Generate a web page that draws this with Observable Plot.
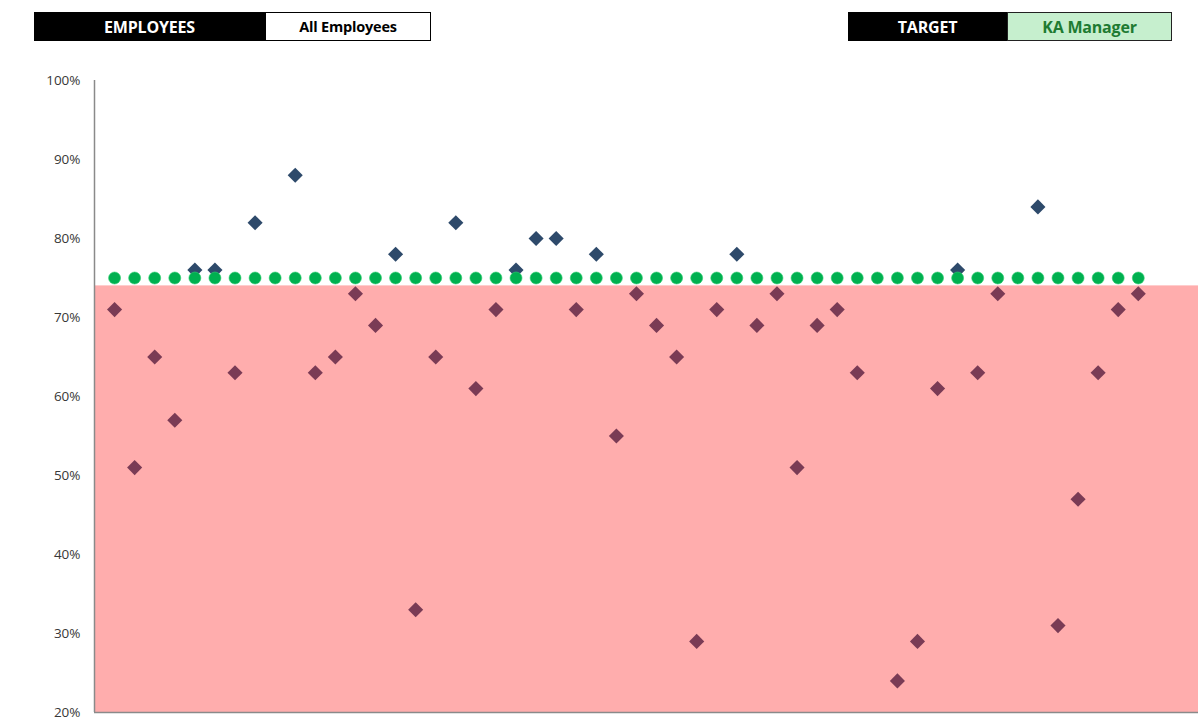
<!DOCTYPE html>
<html>
<head>
<meta charset="utf-8">
<script src="https://cdn.jsdelivr.net/npm/d3@7"></script>
<script src="https://cdn.jsdelivr.net/npm/@observablehq/plot@0.6"></script>
<style>
  body { margin: 0; background: #fff; font-family: "Open Sans", sans-serif; }
  #wrap { position: relative; width: 1198px; }
  #header { position: relative; height: 60px; }
  .box { position: absolute; top: 12px; height: 29px; box-sizing: border-box;
         display: flex; align-items: center; justify-content: center; font-weight: 700; letter-spacing: -0.2px; }
</style>
</head>
<body>
<div id="wrap">
  <div id="header">
    <div class="box" style="left:34px;width:231px;background:#000;color:#fff;font-size:16px;">EMPLOYEES</div>
    <div class="box" style="left:265px;width:166px;background:#fff;color:#000;border:1.5px solid #000;font-size:14.5px;">All Employees</div>
    <div class="box" style="left:848px;width:159px;background:#000;color:#fff;font-size:16px;">TARGET</div>
    <div class="box" style="left:1007px;width:165px;background:#c6efce;color:#1e7b32;border:1.5px solid #222;font-size:16px;">KA Manager</div>
  </div>
  <div id="chart"></div>
</div>
<script>
// Scores per employee (percent); null = no score shown
const scores = [71, 51, 65, 57, 76, 76, 63, 82, null, 88,
                63, 65, 73, 69, 78, 33, 65, 82, 61, 71,
                76, 80, 80, 71, 78, 55, 73, 69, 65, 29,
                71, 78, 69, 73, 51, 69, 71, 63, null, 24,
                29, 61, 76, 63, 73, null, 84, 31, 47, 63,
                71, 73];
const targetValue = 75;      // green dotted target line
const bandTop = 74;          // red "below target" zone top
const yTicks = [20, 30, 40, 50, 60, 70, 80, 90, 100];
const xDomain = [0, 55];
const yDomain = [20, 100];

const colAbove = "#2e4a6b";
const colBelow = "#7a3b55";
const colTarget = "#00b050";
const colBand = "#ffadad";

const points = scores.map((v, i) => ({pos: i + 1, score: v})).filter(d => d.score != null);
const targets = scores.map((v, i) => ({pos: i + 1, score: targetValue}));

const chart = Plot.plot({
  width: 1198,
  height: 660,
  marginTop: 20,
  marginBottom: 8,
  marginLeft: 94,
  marginRight: 0,
  style: {fontFamily: "Open Sans", fontSize: "13.5px", color: "#383838", background: "transparent"},
  x: {domain: xDomain, axis: null},
  y: {domain: yDomain, axis: null},
  marks: [
    Plot.rect([{x1: xDomain[0], x2: xDomain[1], y1: yDomain[0], y2: bandTop}],
      {x1: "x1", x2: "x2", y1: "y1", y2: "y2", fill: colBand}),
    Plot.ruleX([xDomain[0]], {y1: yDomain[0], y2: yDomain[1], stroke: "#8a8a8a", strokeWidth: 1.5}),
    Plot.ruleY([yDomain[0]], {x1: xDomain[0], x2: xDomain[1], stroke: "#8a8a8a", strokeWidth: 1.5}),
    Plot.axisY({ticks: yTicks, tickSize: 0, tickPadding: 14, tickFormat: d => d + "%", label: null, fontSize: 13.5}),
    Plot.dot(points, {x: "pos", y: "score", symbol: "diamond2", r: 6.8, strokeWidth: 0,
      fill: d => d.score > bandTop ? colAbove : colBelow}),
    Plot.dot(targets, {x: "pos", y: "score", r: 6, fill: colTarget, stroke: "#2fd070", strokeWidth: 0.6})
  ]
});
document.getElementById("chart").appendChild(chart);
</script>
</body>
</html>
